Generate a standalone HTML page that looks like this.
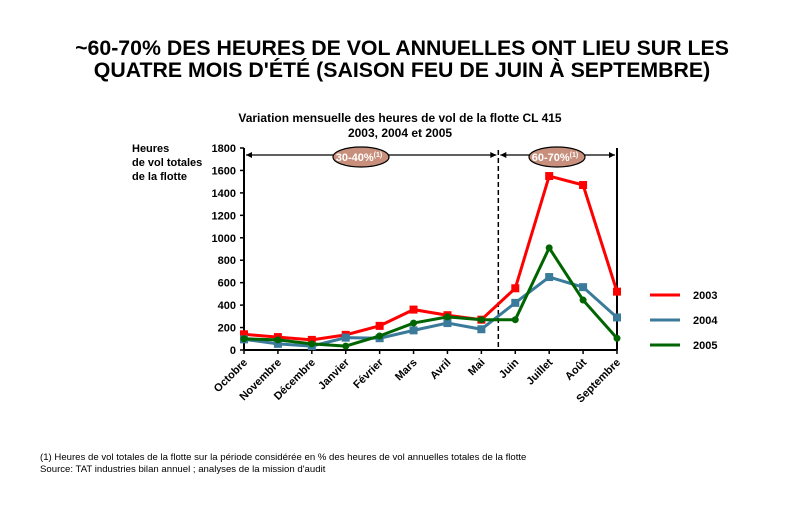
<!DOCTYPE html>
<html><head><meta charset="utf-8"><style>
body{margin:0;background:#fff;width:791px;height:508px;overflow:hidden;font-family:"Liberation Sans",Arial,sans-serif}
</style></head><body>
<svg id="chart" width="791" height="508" xmlns="http://www.w3.org/2000/svg" font-family="Liberation Sans, Arial, sans-serif">
<text x="402" y="55" text-anchor="middle" font-size="21.3" font-weight="bold">~60-70% DES HEURES DE VOL ANNUELLES ONT LIEU SUR LES</text>
<text x="402" y="77" text-anchor="middle" font-size="21.3" font-weight="bold">QUATRE MOIS D'ÉTÉ (SAISON FEU DE JUIN À SEPTEMBRE)</text>
<text x="400" y="122" text-anchor="middle" font-size="12" font-weight="bold">Variation mensuelle des heures de vol de la flotte CL 415</text>
<text x="400" y="137" text-anchor="middle" font-size="12" font-weight="bold">2003, 2004 et 2005</text>
<g font-size="11" font-weight="bold">
<text x="132" y="152">Heures</text><text x="132" y="166">de vol totales</text><text x="132" y="180">de la flotte</text>
</g>
<g id="axes"></g>
<g id="marks"></g>
<g font-family="Liberation Sans, Arial, sans-serif">
<text x="40" y="460" font-size="9.6">(1) Heures de vol totales de la flotte sur la période considérée en % des heures de vol annuelles totales de la flotte</text>
<text x="40" y="472" font-size="9.6">Source: TAT industries bilan annuel ; analyses de la mission d'audit</text>
</g>
</svg>
<script>
const categories=["Octobre","Novembre","Décembre","Janvier","Février","Mars","Avril","Mai","Juin","Juillet","Août","Septembre"];
const s2003=[140,115,90,135,215,360,310,270,550,1550,1470,520];
const s2004=[95,55,35,110,105,175,240,185,420,650,560,290];
const s2005=[100,90,55,35,125,240,295,270,270,910,445,105];
const seriesNames=["2003","2004","2005"];
const yTicks=[0,200,400,600,800,1000,1200,1400,1600,1800];
const NS="http://www.w3.org/2000/svg";
const x0=244,x1=617,y0=350,y1=148,yMax=1800;
const xs=i=>x0+i*(x1-x0)/(categories.length-1);
const ys=v=>y0-v*(y0-y1)/yMax;
function mk(tag,attrs,parent,txt){const e=document.createElementNS(NS,tag);for(const k in attrs)e.setAttribute(k,attrs[k]);if(txt!=null)e.textContent=txt;parent.appendChild(e);return e;}
const ax=document.getElementById('axes'),mg=document.getElementById('marks');
let e=mk('line',{x1:x0,y1:y0,x2:x0,y2:y1,stroke:'#000','stroke-width':2},ax);


e=mk('line',{x1:x0,y1:y0,x2:x1,y2:y0,stroke:'#000','stroke-width':2},ax);


e=mk('line',{x1:x1,y1:y0,x2:x1,y2:y1,stroke:'#000','stroke-width':2},ax);


yTicks.forEach(v=>{
 mk('line',{x1:x0-4,y1:ys(v),x2:x0,y2:ys(v),stroke:'#000','stroke-width':1.5},ax);
 const t=mk('text',{x:x0-8,y:ys(v)+4,'text-anchor':'end','font-size':11,'font-weight':'bold'},ax,v);
 
 
});
categories.forEach((c,i)=>{
 mk('line',{x1:xs(i),y1:y0,x2:xs(i),y2:y0+4,stroke:'#000','stroke-width':1.5},ax);
 const t=mk('text',{x:xs(i)+4,y:y0+13,'text-anchor':'end','font-size':11,'font-weight':'bold',transform:`rotate(-45 ${xs(i)+4} ${y0+13})`},ax,c);
 
 
});
const dx=(xs(7)+xs(8))/2;
e=mk('line',{x1:dx,y1:150,x2:dx,y2:y0,stroke:'#000','stroke-width':1.5,'stroke-dasharray':'5,3'},ax);


const ay=155;
[[x0+2,dx-2],[dx+2,x1-2]].forEach((p,k)=>{
 const g=mk('g',{},ax);
 
 
 mk('line',{x1:p[0],y1:ay,x2:p[1],y2:ay,stroke:'#000','stroke-width':1.2},g);
 mk('polygon',{points:`${p[0]},${ay} ${p[0]+6},${ay-3} ${p[0]+6},${ay+3}`,fill:'#000'},g);
 mk('polygon',{points:`${p[1]},${ay} ${p[1]-6},${ay-3} ${p[1]-6},${ay+3}`,fill:'#000'},g);
});
[[361,'30-40%'],[557,'60-70%']].forEach((o,k)=>{
 const g=mk('g',{},ax);
 
 
 mk('ellipse',{cx:o[0],cy:157,rx:28,ry:10,fill:'#c8907c',stroke:'#000','stroke-width':1.2},g);
 const t=mk('text',{x:o[0]-2,y:161,'text-anchor':'middle','font-size':11,'font-weight':'bold',fill:'#fff'},g,o[1]);
 mk('tspan',{'font-size':7,dy:-4},t,'(1)');
});
const cols=['#ff0000','#3a7a9a','#006400'];
[s2003,s2004,s2005].forEach((s,k)=>{
 const g=mk('g',{},mg);
 
 
 mk('polyline',{points:s.map((v,i)=>xs(i)+','+ys(v)).join(' '),fill:'none',stroke:cols[k],'stroke-width':3},g);
 s.forEach((v,i)=>{
  let m;
  if(k<2) m=mk('rect',{x:xs(i)-4,y:ys(v)-4,width:8,height:8,fill:cols[k]},g);
  else m=mk('circle',{cx:xs(i),cy:ys(v),r:3.5,fill:cols[k]},g);
  
  
 });
 const lg=mk('g',{},mg);
 
 
 const ly=295+k*25;
 mk('line',{x1:650,y1:ly,x2:680,y2:ly,stroke:cols[k],'stroke-width':3},lg);
 mk('text',{x:693,y:ly+4,'font-size':11,'font-weight':'bold'},lg,seriesNames[k]);
});
</script>
</body></html>
